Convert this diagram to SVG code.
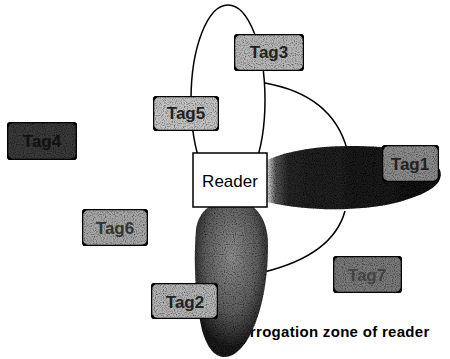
<svg xmlns="http://www.w3.org/2000/svg" width="450" height="359" viewBox="0 0 450 359">
<defs>
<style>
.tag rect{stroke:#000;stroke-width:2.5}
.tag text{font-family:"Liberation Sans",Arial,sans-serif;font-weight:bold;font-size:17px;text-anchor:middle;fill:#222}
.conn{fill:none;stroke:#000;stroke-width:1.5}
</style>
<linearGradient id="lobeR" x1="267" y1="0" x2="445" y2="0" gradientUnits="userSpaceOnUse">
<stop offset="0" stop-color="#e0e0e0"/>
<stop offset="0.05" stop-color="#555"/>
<stop offset="0.12" stop-color="#262626"/>
<stop offset="1" stop-color="#141414"/>
</linearGradient>
<radialGradient id="lobeB" cx="0.5" cy="0.35" r="0.6">
<stop offset="0" stop-color="#8e8e8e"/>
<stop offset="0.6" stop-color="#5e5e5e"/>
<stop offset="1" stop-color="#1a1a1a"/>
</radialGradient>
<filter id="grain" x="0" y="0" width="1" height="1">
<feTurbulence type="fractalNoise" baseFrequency="0.9" numOctaves="1" seed="3" result="n"/>
<feColorMatrix in="n" type="matrix" values="0 0 0 0 0  0 0 0 0 0  0 0 0 0 0  0 0 0 -2.2 1.25" result="spk"/>
<feComposite in="spk" in2="SourceGraphic" operator="in" result="s2"/>
<feMerge><feMergeNode in="SourceGraphic"/><feMergeNode in="s2"/></feMerge>
</filter>
</defs>
<rect width="450" height="359" fill="#fff"/>

<g id="connectors">
<ellipse class="conn" cx="228" cy="100" rx="37" ry="95"/>
<path class="conn" d="M265,83 Q332,95 347,149"/>
<path class="conn" d="M264,272 Q333,255 345,211"/>
</g>

<text id="zone-label" x="222" y="337" font-family="Liberation Sans,Arial,sans-serif" font-weight="bold" font-size="15" letter-spacing="0.3" fill="#000">Interrogation zone of reader</text>

<g id="zone-right">
<path d="M267,160 C290,150 320,146 350,146 C390,146 430,150 440,170 C445,185 425,195 395,203 C360,211 310,212 267,202 Z" fill="url(#lobeR)" filter="url(#grain)"/>
</g>
<g id="zone-bottom">
<path d="M232,200 C252,200 268,215 268,245 C268,285 260,320 246,342 C238,353 231,357 224,357 C215,357 207,348 202,330 C196,305 193,265 196,230 C198,210 214,200 232,200 Z" fill="url(#lobeB)" filter="url(#grain)"/>
</g>

<g id="reader">
<rect x="193" y="153" width="74" height="54" fill="#fff" stroke="#000" stroke-width="1.5"/>
<text x="230" y="187" font-family="Liberation Sans,Arial,sans-serif" font-size="17" text-anchor="middle" fill="#000">Reader</text>
</g>

<g id="tag3" class="tag">
<rect x="234" y="34" width="70" height="37" rx="6" fill="#b8b8b8" filter="url(#grain)"/>
<text x="269" y="58">Tag3</text>
</g>
<g id="tag5" class="tag">
<rect x="153" y="96" width="66" height="35" rx="6" fill="#c4c4c4" filter="url(#grain)"/>
<text x="186" y="119">Tag5</text>
</g>
<g id="tag4" class="tag">
<rect x="7" y="122" width="70" height="38" rx="6" fill="#3a3a3a" filter="url(#grain)"/>
<text x="42" y="147" style="fill:#111">Tag4</text>
</g>
<g id="tag6" class="tag">
<rect x="82" y="209" width="66" height="37" rx="6" fill="#a8a8a8" filter="url(#grain)"/>
<text x="115" y="234" style="fill:#333">Tag6</text>
</g>
<g id="tag2" class="tag">
<rect x="151" y="283" width="67" height="36" rx="6" fill="#b4b4b4" filter="url(#grain)"/>
<text x="185" y="308">Tag2</text>
</g>
<g id="tag7" class="tag">
<rect x="333" y="256" width="69" height="37" rx="6" fill="#7a7a7a" filter="url(#grain)"/>
<text x="367" y="281" style="fill:#444">Tag7</text>
</g>
<g id="tag1" class="tag">
<rect x="382" y="145" width="57" height="37" rx="6" fill="#8c8c8c" filter="url(#grain)"/>
<text x="410" y="170" style="fill:#222">Tag1</text>
</g>
</svg>
